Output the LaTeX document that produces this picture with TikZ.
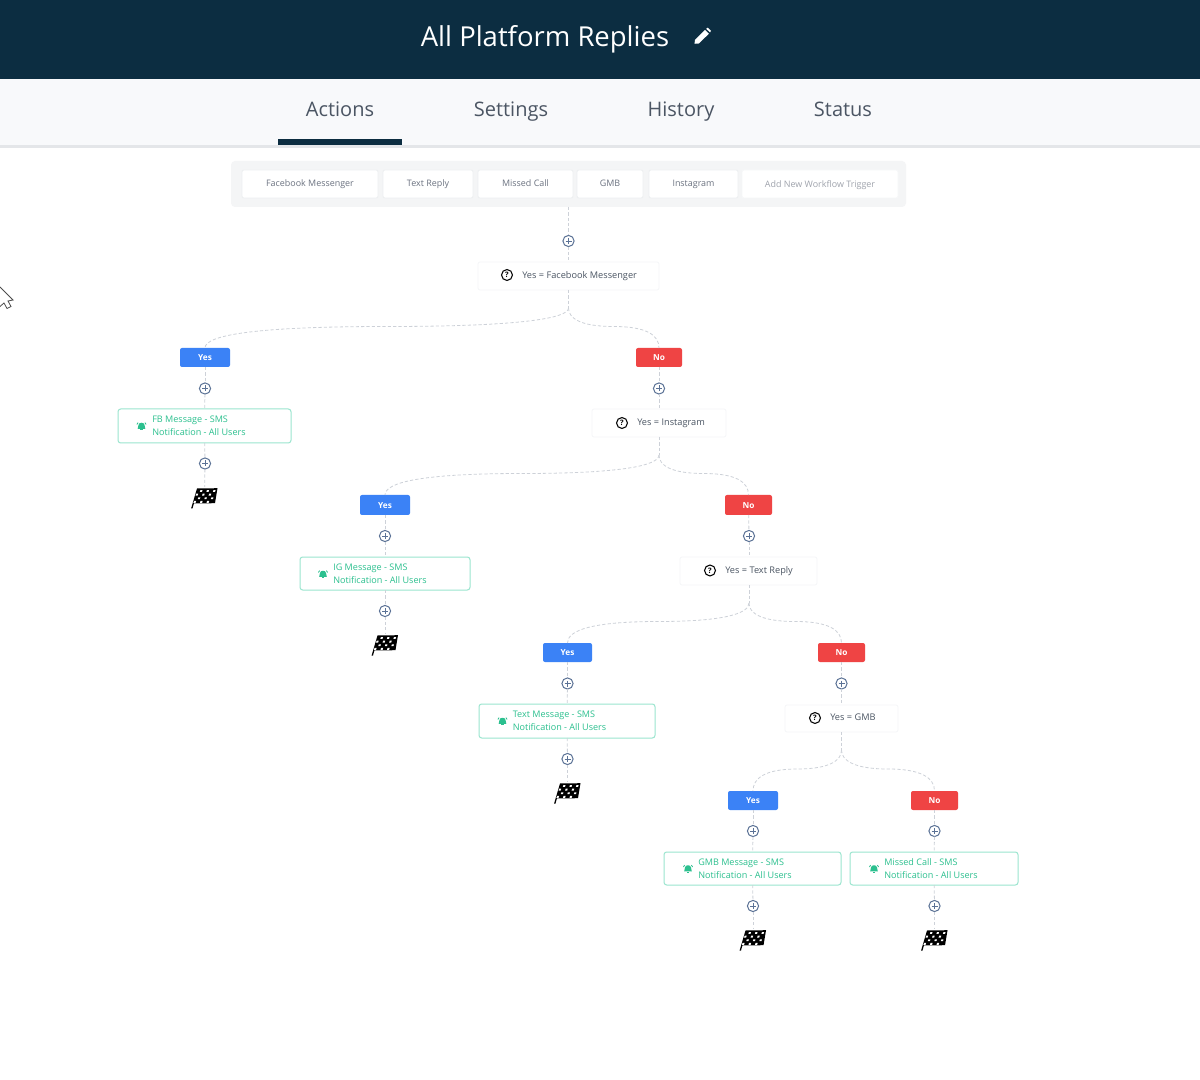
\documentclass[tikz,border=0pt]{standalone}
\usepackage{fontspec}
\setmainfont{Open Sans}
\usetikzlibrary{calc}
\definecolor{hdr}{HTML}{0C2D41}
\definecolor{tabbg}{HTML}{F8F9FB}
\definecolor{tabline}{HTML}{E4E6E9}
\definecolor{tabtxt}{HTML}{4B5563}
\definecolor{tray}{HTML}{F4F5F6}
\definecolor{btnline}{HTML}{EDEFF1}
\definecolor{btntxt}{HTML}{6B7280}
\definecolor{conn}{HTML}{CDD1D8}
\definecolor{plusc}{HTML}{5B7296}
\definecolor{actg}{HTML}{2CC08F}
\definecolor{actl}{HTML}{9BE5CF}
\definecolor{yesc}{HTML}{3B82F6}
\definecolor{noc}{HTML}{EF4444}
\tikzset{
  pxfont/.style={font=\fontsize{#1}{24}\selectfont},
  box/.style={inner sep=0pt,outer sep=0pt,rectangle},
  trigger/.style={box,draw=btnline,fill=white,line width=.6pt,rounded corners=1.5pt,text=btntxt,pxfont=6.7,text height=5.2pt,text depth=1.4pt},
  question/.style={box,draw=btnline!60,fill=white,line width=.5pt,rounded corners=1.5pt},
  qtext/.style={inner sep=0pt,anchor=west,text=tabtxt,font=\fontsize{6.9}{24}\selectfont,text height=5.2pt,text depth=1.4pt},
  action/.style={box,draw=actl,fill=white,line width=.75pt,rounded corners=2pt},
  atext/.style={inner sep=0pt,anchor=west,align=left,text=actg,font=\fontsize{6.8}{9.6}\selectfont},
  yesb/.style={box,fill=yesc,rounded corners=1.5pt,text=white,font=\fontsize{6.2}{24}\bfseries\selectfont,text height=4.8pt,text depth=0pt},
  nob/.style={box,fill=noc,rounded corners=1.5pt,text=white,font=\fontsize{6.2}{24}\bfseries\selectfont,text height=4.8pt,text depth=0pt},
  plusn/.style={circle,inner sep=0pt,outer sep=0pt,minimum size=8.4pt,draw=plusc,fill=white,line width=.75pt},
  tabt/.style={inner sep=0pt,text=tabtxt,anchor=base,font=\fontsize{15}{24}\selectfont},
  flow/.style={draw=conn,line width=.6pt,dash pattern=on 2.4pt off 1.6pt},
  flagn/.style={inner sep=0pt,outer sep=0pt,minimum width=18pt,minimum height=15pt},
}
\newcommand\boxn[7]{\node[#1,minimum width={(#5-#3)*0.75pt},minimum height={(#6-#4)*0.75pt}] (#2) at ({(#3+#5)/2},{(#4+#6)/2}) {#7};}
\newcommand\plusat[3]{\node[plusn] (#1) at (#2,#3) {};
  \draw[plusc,line width=.7pt] ($(#1)+(-3,0)$) -- ($(#1)+(3,0)$) ($(#1)+(0,-3)$) -- ($(#1)+(0,3)$);}
\newcommand\bellat[3]{\begin{scope}[shift={(#2,#3)}]
  \coordinate (#1) at (0,0);
  \fill[actg] (-3.8,2.8) -- (-3,-1) .. controls (-2.8,-4) and (2.8,-4) .. (3,-1) -- (3.8,2.8) -- cycle;
  \fill[actg] (-1.4,3.2) rectangle (1.4,4.4);
  \draw[actg,line width=.6pt] (-4.6,-1.5) -- (-3.4,-3.4) (4.6,-1.5) -- (3.4,-3.4);
\end{scope}}
\newcommand\qicon[3]{\node[circle,draw=black,line width=.8pt,inner sep=0pt,minimum size=8.2pt,font=\fontsize{5.6}{6}\bfseries\selectfont] (#1) at (#2,#3) {?};}
\newcommand\flagat[3]{\node[flagn] (#1) at (#2,#3) {};
  \begin{scope}[shift={(#2,#3.5)}]
    \fill[black] (-7.5,-9) -- (13,-9.3) -- (10.5,5.7) -- (-10.6,6) -- (-12,11) -- (-13.4,11) -- cycle;
    \foreach \u/\v in {1/0,3/0,5/0,0/1,2/1,4/1,1/2,3/2,5/2,0/3,2/3,4/3}{
      \fill[white] ({-7.5+19.6*(\u+.18)/6-4.2*(\v+.42)/4},{-9+14.6*(\v+.42)/4})
        -- ({-7.5+19.6*(\u+.82)/6-4.2*(\v+.42)/4},{-9+14.6*(\v+.42)/4})
        -- ({-7.5+19.6*(\u+.82)/6-4.2*(\v+.92)/4},{-9+14.6*(\v+.92)/4})
        -- ({-7.5+19.6*(\u+.18)/6-4.2*(\v+.92)/4},{-9+14.6*(\v+.92)/4}) -- cycle;}
  \end{scope}}
\newcommand\branch[3]{% from, target, mid-name
  \coordinate (#3) at ($(#1)!0.5!(#2.north)+(0,-1.5)$);
  \draw[flow] (#1) .. controls ($(#1)+(0,10)$) and ($(#3)!0.75!(#1 |- #3)$) .. (#3)
     .. controls ($(#3)!0.72!(#2.north |- #3)$) and ($(#2.north)+(0,-13)$) .. (#2.north);}
\begin{document}
\begin{tikzpicture}[x=0.75pt,y=-0.75pt]
\useasboundingbox (0,0) rectangle (1200,1080);
\fill[white] (0,0) rectangle (1200,1080);
% header
\fill[tabbg] (0,79) rectangle (1200,146);
\fill[hdr] (0,0) rectangle (1200,79.5);
\fill[tabline] (0,145.5) rectangle (1200,148);
\fill[hdr] (278,139.5) rectangle (402,145.5);
\node[inner sep=0pt,text=white,anchor=base,font=\fontsize{20.6}{26}\selectfont] (title) at (545,46.5) {All Platform Replies};
\fill[white] (694.5,43.8) -- (695,39.8) -- (705,30) -- (708.8,33.8) -- (698.8,43.5) -- cycle;
\fill[white] (706.2,28.8) -- (707.8,27.6) -- (711,30.8) -- (710,32.4) -- cycle;
\node[tabt] (tab1) at (340,116.5) {Actions};
\node[tabt] (tab2) at (511,116.5) {Settings};
\node[tabt] (tab3) at (681,116.5) {History};
\node[tabt] (tab4) at (843,116.5) {Status};
% cursor
\filldraw[fill=white,draw=black!70,line width=.6pt] (0,287) -- (13,300) -- (8,301) -- (11,306.5) -- (7,308.5) -- (4,303) -- (0,306.5);
% triggers
\boxn{box,fill=tray,rounded corners=3pt}{tray}{231}{161}{906}{207}{}
\boxn{trigger}{t1}{242}{170}{378}{198}{Facebook Messenger}
\boxn{trigger}{t2}{383}{170}{473}{198}{Text Reply}
\boxn{trigger}{t3}{478}{170}{573}{198}{Missed Call}
\boxn{trigger}{t4}{577}{170}{643}{198}{GMB}
\boxn{trigger}{t5}{649}{170}{738}{198}{Instagram}
\boxn{trigger,text=btntxt!65,draw=btnline!50}{t6}{742}{170}{898}{198}{\raisebox{-.7pt}{Add New Workflow Trigger}}
% questions
\boxn{question}{q1}{478}{262}{659}{290}{}
\boxn{question}{q2}{592}{409}{726}{437}{}
\boxn{question}{q3}{680}{557}{817}{585}{}
\boxn{question}{q4}{785}{705}{898}{732}{}
\qicon{qi1}{507}{275}\node[qtext] (qt1) at (522,276) {Yes = Facebook Messenger};
\qicon{qi2}{622}{423}\node[qtext] (qt2) at (637,423) {Yes = Instagram};
\qicon{qi3}{710}{570.5}\node[qtext] (qt3) at (725,571) {Yes = Text Reply};
\qicon{qi4}{815}{718}\node[qtext] (qt4) at (830,718) {Yes = GMB};
% yes/no
\boxn{yesb}{y1}{180}{348}{230}{367}{Yes}
\boxn{nob}{n1}{636}{348}{682}{367}{No}
\boxn{yesb}{y2}{360}{495}{410}{515}{Yes}
\boxn{nob}{n2}{725}{495}{772}{515}{No}
\boxn{yesb}{y3}{543}{643}{592}{662}{Yes}
\boxn{nob}{n3}{818}{643}{865}{662}{No}
\boxn{yesb}{y4}{728}{791}{778}{810}{Yes}
\boxn{nob}{n4}{911}{791}{958}{810}{No}
% actions
\boxn{action}{a1}{118}{409}{291}{443}{}
\boxn{action}{a2}{300}{557}{470}{590}{}
\boxn{action}{a3}{479}{704}{655}{738}{}
\boxn{action}{a4}{664}{852}{841}{885}{}
\boxn{action}{a5}{850}{852}{1018}{885}{}
\bellat{b1}{141.5}{426}\node[atext] (at1) at (152,426) {FB Message - SMS\\Notification - All Users};
\bellat{b2}{323}{574}\node[atext] (at2) at (333,573.5) {IG Message - SMS\\Notification - All Users};
\bellat{b3}{502.5}{721}\node[atext] (at3) at (512.5,721) {Text Message - SMS\\Notification - All Users};
\bellat{b4}{688}{868.5}\node[atext] (at4) at (698,868.5) {GMB Message - SMS\\Notification - All Users};
\bellat{b5}{874}{868.5}\node[atext] (at5) at (884,868.5) {Missed Call - SMS\\Notification - All Users};
% plus
\plusat{p0}{568.5}{241}
\plusat{p1}{205}{388.5}\plusat{p2}{205}{463.5}\plusat{p3}{659}{388.5}
\plusat{p4}{385}{536}\plusat{p5}{385}{611}\plusat{p6}{749}{536}
\plusat{p7}{567.5}{683.5}\plusat{p8}{567.5}{759}\plusat{p9}{841.5}{683.5}
\plusat{p10}{753}{831}\plusat{p11}{753}{906}\plusat{p12}{934.5}{831}\plusat{p13}{934.5}{906}
% flags
\flagat{f1}{204.5}{497}\flagat{f2}{385}{644}\flagat{f3}{567.5}{792}\flagat{f4}{753}{939}\flagat{f5}{934.5}{939}
% junctions
\coordinate (j1) at (568.5,308);
\coordinate (j2) at (659,455);
\coordinate (j3) at (749,603);
\coordinate (j4) at (841.5,750);
% connectors
\draw[flow] (tray.south -| p0) -- (p0);
\draw[flow] (p0) -- (q1.north -| p0);
\draw[flow] (q1.south -| j1) -- (j1);
\draw[flow] (q2.south -| j2) -- (j2);
\draw[flow] (q3.south -| j3) -- (j3);
\draw[flow] (q4.south -| j4) -- (j4);
\branch{j1}{y1}{m1}\branch{j1}{n1}{m2}
\branch{j2}{y2}{m3}\branch{j2}{n2}{m4}
\branch{j3}{y3}{m5}\branch{j3}{n3}{m6}
\branch{j4}{y4}{m7}\branch{j4}{n4}{m8}
\draw[flow] (y1) -- (p1); \draw[flow] (p1) -- (a1); \draw[flow] (a1) -- (p2); \draw[flow] (p2) -- (f1);
\draw[flow] (n1) -- (p3); \draw[flow] (p3) -- (q2.north -| p3);
\draw[flow] (y2) -- (p4); \draw[flow] (p4) -- (a2); \draw[flow] (a2) -- (p5); \draw[flow] (p5) -- (f2);
\draw[flow] (n2) -- (p6); \draw[flow] (p6) -- (q3.north -| p6);
\draw[flow] (y3) -- (p7); \draw[flow] (p7) -- (a3); \draw[flow] (a3) -- (p8); \draw[flow] (p8) -- (f3);
\draw[flow] (n3) -- (p9); \draw[flow] (p9) -- (q4.north -| p9);
\draw[flow] (y4) -- (p10); \draw[flow] (p10) -- (a4); \draw[flow] (a4) -- (p11); \draw[flow] (p11) -- (f4);
\draw[flow] (n4) -- (p12); \draw[flow] (p12) -- (a5); \draw[flow] (a5) -- (p13); \draw[flow] (p13) -- (f5);
\end{tikzpicture}
\end{document}
